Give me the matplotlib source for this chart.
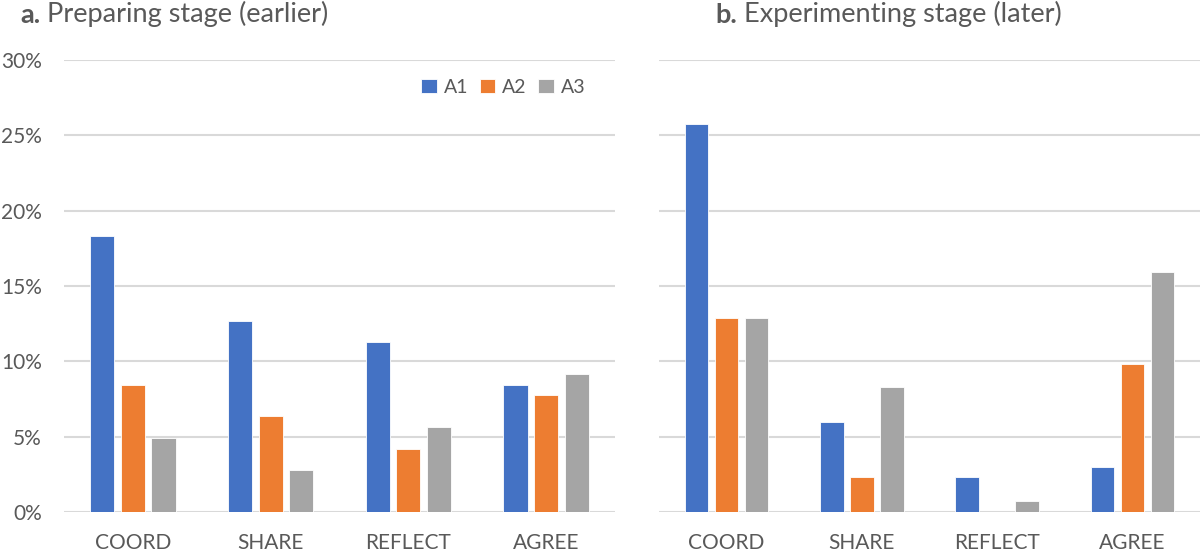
import numpy as np
import matplotlib
matplotlib.use("Agg")
import matplotlib.pyplot as plt
from matplotlib.ticker import PercentFormatter

plt.rcParams['font.family'] = ['Lato', 'DejaVu Sans']

categories = ['COORD', 'SHARE', 'REFLECT', 'AGREE']
series = ['A1', 'A2', 'A3']
colors = ['#4472C4', '#ED7D31', '#A5A5A5']

# values in percent
early_A1 = [18.3, 12.7, 11.3, 8.45]
early_A2 = [8.45, 6.35, 4.2, 7.75]
early_A3 = [4.9, 2.8, 5.65, 9.15]

late_A1 = [25.75, 6.0, 2.3, 3.0]
late_A2 = [12.85, 2.3, 0.0, 9.85]
late_A3 = [12.85, 8.3, 0.75, 15.9]

text_col = '#595959'
grid_col = '#D9D9D9'

fig = plt.figure(figsize=(12, 5.54), dpi=100)
ax1 = fig.add_axes([64/1200, 42/554, 551/1200, 452/554])
ax2 = fig.add_axes([659/1200, 42/554, 541/1200, 452/554])

x = np.arange(len(categories))
w = 0.175
off = 0.222

def draw(ax, data, show_y):
    for i, (vals, c, name) in enumerate(zip(data, colors, series)):
        ax.bar(x + (i - 1) * off, vals, width=w, color=c, label=name,
               edgecolor='white', linewidth=0.6, zorder=3)
    ax.set_xlim(-0.5, len(categories) - 0.5)
    ax.set_ylim(0, 30)
    ax.set_yticks(np.arange(0, 31, 5))
    ax.yaxis.set_major_formatter(PercentFormatter(decimals=0))
    ax.grid(axis='y', color=grid_col, linewidth=1.5, zorder=0)
    for s in ax.spines.values():
        s.set_visible(False)
    ax.set_xticks(x)
    ax.set_xticklabels(categories)
    ax.tick_params(axis='x', length=0, pad=15, labelsize=15, labelcolor=text_col)
    ax.tick_params(axis='y', length=0, pad=16, labelsize=15, labelcolor=text_col)
    if not show_y:
        ax.tick_params(axis='y', labelleft=False)

draw(ax1, [early_A1, early_A2, early_A3], True)
draw(ax2, [late_A1, late_A2, late_A3], False)

ax1.legend(loc='center', bbox_to_anchor=(0.797, 0.94), ncol=3, frameon=False,
           fontsize=14, labelcolor=text_col, handlelength=0.8, handleheight=0.8,
           handletextpad=0.35, columnspacing=0.6)

def title(xpx, letter, rest):
    t = fig.text(xpx/1200, 531/554, letter, fontsize=19.5, fontweight='bold',
                 color=text_col, va='baseline', ha='left')
    ax1.annotate(' ' + rest, xy=(1, 0), xycoords=t, va='bottom', ha='left',
                 fontsize=19.5, color=text_col, annotation_clip=False)

title(20, 'a.', 'Preparing stage (earlier)')
title(715, 'b.', 'Experimenting stage (later)')

fig.savefig('out.png', dpi=100)
